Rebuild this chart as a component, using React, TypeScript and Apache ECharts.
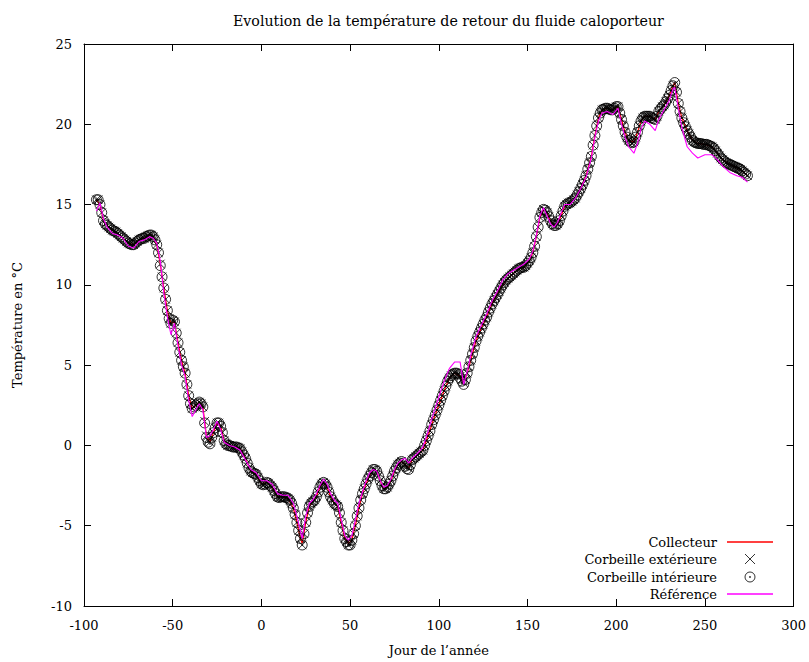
import React, { useEffect, useRef } from "react";
import * as echarts from "echarts";

const titleText = "Evolution de la température de retour du fluide caloporteur";
const xName = "Jour de l\u2019année";
const yName = "Température en °C";
const seriesNames = ["Collecteur", "Corbeille extérieure", "Corbeille intérieure", "Référence"];

// Days at which the two lines were read
const lineDays = [
  -93, -91, -89, -87, -84, -81, -78, -75, -72, -69,
  -66, -63, -61, -59, -57, -55, -53, -51, -49, -47,
  -45, -43, -41, -39, -37, -35, -33, -31, -29, -27,
  -25, -23, -21, -18, -15, -12, -9, -6, -3, 0,
  3, 6, 9, 12, 15, 18, 20, 22, 23, 25,
  27, 29, 31, 33, 35, 37, 39, 41, 43, 45,
  47, 49, 51, 53, 55, 57, 59, 61, 63, 65,
  67, 69, 71, 73, 75, 77, 79, 81, 83, 85,
  88, 91, 94, 97, 100, 103, 106, 109, 112, 114,
  116, 118, 121, 124, 127, 130, 133, 136, 139, 142,
  145, 148, 151, 153, 155, 157, 159, 161, 163, 165,
  167, 169, 171, 174, 177, 180, 183, 186, 188, 190,
  192, 195, 198, 201, 203, 205, 207, 210, 212, 214,
  216, 219, 222, 224, 227, 230, 232, 233, 235, 237,
  240, 243, 246, 250, 254, 257, 260, 264, 268, 271,
  274,
];

const collecteur = [
  15.3, 15.0, 14.0, 13.7, 13.4, 13.2, 12.9, 12.6, 12.5, 12.8,
  12.9, 13.1, 13.0, 12.5, 11.3, 9.8, 8.4, 7.6, 7.7, 6.4,
  5.3, 4.5, 3.1, 2.3, 2.5, 2.7, 2.4, 0.6, 0.2, 0.8,
  1.4, 1.2, 0.3, 0.0, -0.1, -0.2, -0.8, -1.6, -1.8, -2.4,
  -2.3, -2.6, -3.2, -3.2, -3.3, -3.9, -4.8, -5.8, -6.1, -4.8,
  -3.8, -3.5, -3.2, -2.6, -2.3, -2.6, -3.2, -3.6, -3.8, -4.8,
  -5.8, -6.1, -5.9, -5.0, -3.9, -3.0, -2.4, -1.9, -1.5, -1.6,
  -2.2, -2.7, -2.6, -2.2, -1.6, -1.2, -1.0, -1.2, -1.4, -0.9,
  -0.6, -0.3, 0.6, 1.6, 2.5, 3.4, 4.2, 4.5, 4.3, 3.9,
  4.5, 5.3, 6.5, 7.3, 8.0, 8.8, 9.4, 10.0, 10.4, 10.7,
  11.0, 11.1, 11.5, 12.0, 13.0, 14.2, 14.7, 14.5, 14.0, 13.7,
  13.8, 14.3, 14.9, 15.1, 15.4, 16.0, 16.8, 18.0, 19.3, 20.4,
  20.9, 21.0, 20.9, 21.1, 20.3, 19.5, 19.0, 18.9, 19.5, 20.2,
  20.5, 20.5, 20.3, 20.8, 21.2, 21.8, 22.4, 22.6, 21.3, 20.4,
  19.6, 19.0, 18.8, 18.75, 18.6, 18.2, 17.8, 17.5, 17.3, 17.1,
  16.8,
];

const reference = [
  14.6, 15.1, 14.1, 13.6, 13.2, 13.1, 12.9, 12.4, 12.3, 12.7,
  12.8, 13.0, 12.9, 12.6, 11.5, 9.5, 8.0, 6.9, 7.6, 6.2,
  5.0, 4.3, 2.8, 1.8, 2.2, 2.6, 2.2, 0.5, 0.6, 1.0,
  1.5, 1.0, 0.2, 0.0, -0.1, -0.3, -0.9, -1.5, -1.7, -2.2,
  -2.2, -2.4, -3.0, -3.1, -3.1, -3.6, -4.4, -5.3, -5.8, -4.4,
  -3.6, -3.4, -3.0, -2.5, -2.1, -2.4, -3.0, -3.4, -3.6, -4.6,
  -5.6, -5.9, -5.6, -4.6, -3.6, -2.9, -2.2, -1.7, -1.5, -1.6,
  -2.2, -2.6, -2.5, -2.1, -1.5, -1.1, -0.9, -0.8, -1.1, -0.8,
  -0.5, -0.1, 0.9, 2.0, 3.0, 4.0, 4.8, 5.2, 5.2, 3.8,
  4.6, 5.6, 6.8, 7.5, 8.2, 9.0, 9.6, 10.3, 10.7, 10.9,
  11.1, 11.3, 11.6, 12.1, 13.1, 14.3, 14.8, 14.3, 13.8, 13.6,
  13.9, 14.5, 15.0, 15.0, 15.4, 16.0, 16.7, 17.9, 19.2, 20.2,
  20.7, 20.8, 20.6, 21.0, 20.0, 19.2, 18.6, 18.2, 18.8, 19.7,
  20.2, 20.0, 19.6, 20.3, 20.9, 21.5, 22.2, 22.3, 21.0, 19.8,
  18.6, 18.2, 17.9, 18.1, 18.1, 17.8, 17.4, 17.0, 16.8, 16.7,
  16.4,
];

// Daily marker series, first day -93, one value per day up to day 274
const firstMarkerDay = -93;

const exterieure = [
  15.3, 15.3, 15.0, 14.5, 14.0, 13.8, 13.7, 13.6, 13.5, 13.4,
  13.35, 13.3, 13.2, 13.1, 13.0, 12.9, 12.8, 12.7, 12.6, 12.55,
  12.5, 12.5, 12.6, 12.7, 12.8, 12.85, 12.9, 12.9, 13.0, 13.05,
  13.1, 13.1, 13.0, 12.8, 12.5, 12.0, 11.3, 10.5, 9.8, 9.1,
  8.4, 7.9, 7.6, 7.8, 7.7, 7.0, 6.4, 5.8, 5.3, 4.9,
  4.5, 3.8, 3.1, 2.6, 2.3, 2.4, 2.5, 2.6, 2.7, 2.6,
  2.4, 1.5, 0.6, 0.3, 0.2, 0.5, 0.8, 1.1, 1.4, 1.4,
  1.2, 0.8, 0.3, 0.1, 0.0, 0.0, -0.05, -0.1, -0.1, -0.1,
  -0.15, -0.2, -0.4, -0.6, -0.8, -1.1, -1.4, -1.6, -1.7, -1.75,
  -1.8, -2.0, -2.2, -2.4, -2.45, -2.4, -2.3, -2.35, -2.5, -2.6,
  -2.8, -3.0, -3.2, -3.25, -3.2, -3.2, -3.2, -3.25, -3.3, -3.4,
  -3.6, -3.9, -4.3, -4.8, -5.3, -5.8, -6.2, -5.5, -4.8, -4.2,
  -3.8, -3.6, -3.5, -3.4, -3.2, -2.9, -2.6, -2.4, -2.3, -2.4,
  -2.6, -2.9, -3.2, -3.4, -3.6, -3.7, -3.8, -4.2, -4.8, -5.3,
  -5.8, -6.0, -6.2, -6.1, -5.9, -5.5, -5.0, -4.4, -3.9, -3.4,
  -3.0, -2.7, -2.4, -2.1, -1.9, -1.7, -1.5, -1.5, -1.6, -1.9,
  -2.2, -2.5, -2.7, -2.7, -2.6, -2.4, -2.2, -1.9, -1.6, -1.4,
  -1.2, -1.1, -1.0, -1.1, -1.2, -1.35, -1.4, -1.2, -0.9, -0.8,
  -0.7, -0.6, -0.5, -0.4, -0.3, 0.0, 0.3, 0.6, 0.9, 1.3,
  1.6, 1.9, 2.2, 2.5, 2.8, 3.1, 3.4, 3.7, 4.0, 4.2,
  4.35, 4.45, 4.5, 4.5, 4.45, 4.3, 4.1, 3.9, 4.1, 4.5,
  4.9, 5.3, 5.7, 6.1, 6.5, 6.8, 7.05, 7.3, 7.55, 7.8,
  8.0, 8.3, 8.55, 8.8, 9.0, 9.2, 9.4, 9.6, 9.8, 10.0,
  10.15, 10.3, 10.4, 10.5, 10.6, 10.7, 10.8, 10.9, 11.0, 11.05,
  11.1, 11.1, 11.2, 11.35, 11.5, 11.7, 12.0, 12.4, 13.0, 13.6,
  14.2, 14.5, 14.7, 14.65, 14.5, 14.25, 14.0, 13.8, 13.7, 13.7,
  13.8, 14.0, 14.3, 14.6, 14.9, 15.0, 15.1, 15.1, 15.2, 15.3,
  15.4, 15.6, 15.8, 16.0, 16.25, 16.5, 16.8, 17.2, 17.6, 18.0,
  18.7, 19.3, 19.9, 20.4, 20.7, 20.9, 20.95, 21.0, 21.0, 20.95,
  20.9, 20.9, 21.0, 21.1, 21.1, 20.7, 20.3, 19.9, 19.5, 19.2,
  19.0, 18.9, 18.85, 18.9, 19.2, 19.5, 19.9, 20.2, 20.4, 20.5,
  20.5, 20.5, 20.5, 20.4, 20.35, 20.3, 20.5, 20.8, 20.95, 21.1,
  21.2, 21.4, 21.6, 21.8, 22.1, 22.4, 22.5, 22.0, 21.3, 20.8,
  20.4, 20.1, 19.85, 19.6, 19.4, 19.2, 19.0, 18.9, 18.85, 18.8,
  18.8, 18.8, 18.75, 18.75, 18.75, 18.7, 18.65, 18.6, 18.5, 18.35,
  18.2, 18.05, 17.9, 17.8, 17.7, 17.6, 17.55, 17.5, 17.45, 17.4,
  17.35, 17.3, 17.25, 17.2, 17.1, 17.0, 16.9, 16.8,
];

const interieure = [
  15.3, 15.3, 15.0, 14.5, 14.0, 13.8, 13.7, 13.6, 13.5, 13.4,
  13.35, 13.3, 13.2, 13.1, 13.0, 12.9, 12.8, 12.7, 12.6, 12.55,
  12.5, 12.5, 12.6, 12.7, 12.8, 12.85, 12.9, 12.9, 13.0, 13.05,
  13.1, 13.1, 13.0, 12.8, 12.5, 12.0, 11.2, 10.5, 9.8, 9.1,
  8.4, 7.9, 7.6, 7.8, 7.7, 7.0, 6.4, 5.8, 5.3, 4.9,
  4.5, 3.8, 3.1, 2.6, 2.3, 2.4, 2.5, 2.6, 2.7, 2.6,
  2.4, 1.4, 0.5, 0.2, 0.1, 0.5, 0.8, 1.1, 1.4, 1.4,
  1.2, 0.8, 0.3, 0.1, 0.0, 0.0, -0.05, -0.1, -0.1, -0.1,
  -0.15, -0.2, -0.4, -0.6, -0.8, -1.1, -1.4, -1.6, -1.7, -1.75,
  -1.8, -2.0, -2.2, -2.4, -2.45, -2.4, -2.3, -2.35, -2.5, -2.6,
  -2.8, -3.0, -3.2, -3.25, -3.2, -3.2, -3.2, -3.25, -3.3, -3.4,
  -3.6, -3.9, -4.3, -4.8, -5.3, -5.8, -6.2, -5.5, -4.8, -4.2,
  -3.8, -3.6, -3.5, -3.4, -3.2, -2.9, -2.6, -2.4, -2.3, -2.4,
  -2.6, -2.9, -3.2, -3.4, -3.6, -3.7, -3.8, -4.2, -4.8, -5.3,
  -5.8, -6.0, -6.2, -6.2, -5.9, -5.5, -5.0, -4.4, -3.9, -3.4,
  -3.0, -2.7, -2.4, -2.1, -1.9, -1.7, -1.5, -1.5, -1.6, -1.9,
  -2.2, -2.5, -2.7, -2.7, -2.6, -2.4, -2.2, -1.9, -1.6, -1.4,
  -1.2, -1.1, -1.0, -1.1, -1.3, -1.45, -1.5, -1.2, -0.9, -0.8,
  -0.7, -0.6, -0.5, -0.4, -0.3, 0.0, 0.3, 0.6, 0.9, 1.3,
  1.6, 1.9, 2.2, 2.5, 2.8, 3.1, 3.4, 3.7, 4.0, 4.2,
  4.35, 4.45, 4.5, 4.5, 4.45, 4.2, 4.0, 3.8, 4.1, 4.5,
  4.9, 5.3, 5.7, 6.1, 6.5, 6.8, 7.05, 7.3, 7.55, 7.8,
  8.0, 8.3, 8.55, 8.8, 9.0, 9.2, 9.4, 9.6, 9.8, 10.0,
  10.15, 10.3, 10.4, 10.5, 10.6, 10.7, 10.8, 10.9, 11.0, 11.05,
  11.1, 11.1, 11.2, 11.35, 11.5, 11.7, 12.0, 12.4, 13.0, 13.6,
  14.2, 14.5, 14.7, 14.65, 14.5, 14.25, 14.0, 13.8, 13.7, 13.7,
  13.8, 14.0, 14.3, 14.6, 14.9, 15.0, 15.1, 15.1, 15.2, 15.3,
  15.4, 15.6, 15.8, 16.0, 16.25, 16.5, 16.8, 17.2, 17.6, 18.0,
  18.7, 19.3, 19.9, 20.4, 20.7, 20.9, 20.95, 21.0, 21.0, 20.95,
  20.9, 20.9, 21.0, 21.1, 21.1, 20.7, 20.3, 19.9, 19.5, 19.2,
  19.0, 18.9, 18.85, 18.9, 19.2, 19.5, 19.9, 20.2, 20.4, 20.5,
  20.5, 20.5, 20.5, 20.4, 20.35, 20.3, 20.5, 20.8, 20.95, 21.1,
  21.2, 21.4, 21.6, 21.8, 22.1, 22.4, 22.6, 22.0, 21.3, 20.8,
  20.4, 20.1, 19.85, 19.6, 19.4, 19.2, 19.0, 18.9, 18.85, 18.8,
  18.8, 18.8, 18.75, 18.75, 18.75, 18.7, 18.65, 18.6, 18.5, 18.35,
  18.2, 18.05, 17.9, 17.8, 17.7, 17.6, 17.55, 17.5, 17.45, 17.4,
  17.35, 17.3, 17.25, 17.2, 17.1, 17.0, 16.9, 16.8,
];

const FONT = "DejaVu Serif";
const CROSS = "path://M0,0L10,10M10,0L0,10";
const CIRCLE_DOT =
  "path://M0,5A5,5 0 1,1 10,5A5,5 0 1,1 0,5Z M4.4,5A0.6,0.6 0 1,1 5.6,5A0.6,0.6 0 1,1 4.4,5Z";
const LINE_ICON = "path://M0,0H46V1.4H0Z";

const linePairs = (vals: number[]) => lineDays.map((d, i) => [d, vals[i]]);
const dailyPairs = (vals: number[]) => vals.map((v, i) => [firstMarkerDay + i, v]);

export default function App() {
  const ref = useRef<HTMLDivElement>(null);
  useEffect(() => {
    document.body.style.margin = "0";
    if (!ref.current) return;
    const chart = echarts.init(ref.current, null, { renderer: "svg" });
    const axisCommon = {
      axisLine: { show: true, onZero: false, lineStyle: { color: "#000", width: 1 } },
      axisTick: { show: true, inside: true, length: 7, lineStyle: { color: "#000", width: 1 } },
      splitLine: { show: false },
    };
    const labelStyle = { color: "#000", fontFamily: FONT, fontSize: 13 };
    chart.setOption({
      animation: false,
      backgroundColor: "#fff",
      title: {
        text: titleText,
        left: 228,
        top: 9,
        textStyle: { color: "#000", fontFamily: FONT, fontSize: 14.2, fontWeight: "normal" },
      },
      grid: { left: 84, right: 15, top: 44, bottom: 55 },
      xAxis: [
        {
          type: "value",
          min: -100,
          max: 300,
          interval: 50,
          position: "bottom",
          name: xName,
          nameLocation: "middle",
          nameGap: 38,
          nameTextStyle: labelStyle,
          axisLabel: { ...labelStyle, margin: 13 },
          ...axisCommon,
        },
        {
          type: "value",
          min: -100,
          max: 300,
          interval: 50,
          position: "top",
          axisLabel: { show: false },
          ...axisCommon,
        },
      ],
      yAxis: [
        {
          type: "value",
          min: -10,
          max: 25,
          interval: 5,
          position: "left",
          name: yName,
          nameLocation: "middle",
          nameGap: 60,
          nameTextStyle: labelStyle,
          axisLabel: { ...labelStyle, margin: 12 },
          ...axisCommon,
        },
        {
          type: "value",
          min: -10,
          max: 25,
          interval: 5,
          position: "right",
          axisLabel: { show: false },
          ...axisCommon,
        },
      ],
      legend: {
        orient: "vertical",
        right: 31,
        top: 530.5,
        align: "right",
        itemWidth: 46,
        itemHeight: 10,
        itemGap: 3,
        textStyle: { color: "#000", fontFamily: FONT, fontSize: 13, padding: [0, 5, 0, 0] },
        data: [
          { name: seriesNames[0], icon: LINE_ICON, itemStyle: { color: "#ff0000", borderWidth: 0 } },
          {
            name: seriesNames[1],
            icon: CROSS,
            itemStyle: { color: "none", borderColor: "#000", borderWidth: 1 },
          },
          {
            name: seriesNames[2],
            icon: CIRCLE_DOT,
            itemStyle: { color: "none", borderColor: "#000", borderWidth: 1 },
          },
          { name: seriesNames[3], icon: LINE_ICON, itemStyle: { color: "#ff00ff", borderWidth: 0 } },
        ],
      },
      series: [
        {
          name: seriesNames[0],
          type: "line",
          data: linePairs(collecteur),
          symbol: "none",
          lineStyle: { color: "#ff0000", width: 1.2 },
          itemStyle: { color: "#ff0000" },
          z: 2,
        },
        {
          name: seriesNames[1],
          type: "scatter",
          data: dailyPairs(exterieure),
          symbol: CROSS,
          symbolSize: 8.5,
          itemStyle: { color: "none", borderColor: "#000", borderWidth: 1 },
          z: 3,
        },
        {
          name: seriesNames[2],
          type: "scatter",
          data: dailyPairs(interieure),
          symbol: CIRCLE_DOT,
          symbolSize: 10,
          itemStyle: { color: "none", borderColor: "#000", borderWidth: 1 },
          z: 4,
        },
        {
          name: seriesNames[3],
          type: "line",
          data: linePairs(reference),
          symbol: "none",
          lineStyle: { color: "#ff00ff", width: 1.1 },
          itemStyle: { color: "#ff00ff" },
          z: 5,
        },
      ],
    });
    return () => chart.dispose();
  }, []);
  return <div ref={ref} style={{ width: 809, height: 662 }} />;
}
